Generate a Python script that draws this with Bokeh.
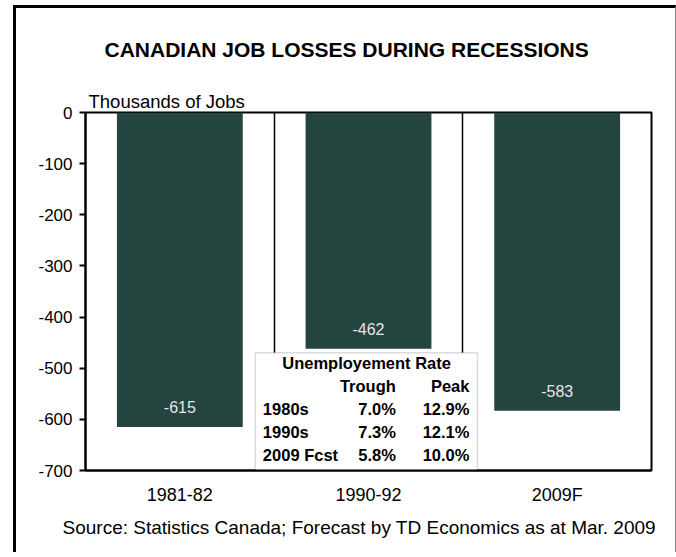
from bokeh.plotting import figure
from bokeh.models import Range1d, FixedTicker, Label, BoxAnnotation, ColumnDataSource, Title
from bokeh.core.properties import value
from bokeh.embed import file_html
from bokeh.resources import INLINE

# Job losses (thousands) in each recession
periods = ["1981-82", "1990-92", "2009F"]
job_losses = [-615, -462, -583]

# Unemployment rate inset table
rate_rows = ["1980s", "1990s", "2009 Fcst"]
trough_rates = [7.0, 7.3, 5.8]
peak_rates = [12.9, 12.1, 10.0]

y_ticks = [0, -100, -200, -300, -400, -500, -600, -700]

FONT = "Liberation Sans"
BAR = "#23443f"

p = figure(width=659, height=544, output_backend="svg", toolbar_location=None,
           x_range=Range1d(0, 3), y_range=Range1d(-700, 0),
           min_border_left=69, min_border_right=28, min_border_top=102,
           min_border_bottom=85)
p.styles = {"box-sizing": "content-box", "margin-left": "13px", "margin-top": "5px",
            "border-left": "3px solid black", "border-top": "3px solid black",
            "border-right": "1px solid #888888"}
p.background_fill_color = "white"
p.border_fill_color = "white"
p.outline_line_color = "black"
p.outline_line_width = 2

# main title, y-unit note and source line
p.title.text = "CANADIAN JOB LOSSES DURING RECESSIONS"
p.title.align = "left"
p.title.text_font = FONT
p.title.text_font_size = "21px"
p.title.text_font_style = "bold"
p.title.text_color = "black"
p.title.offset = 19
p.title.standoff = 55
p.add_layout(Title(text="Thousands of Jobs", align="left", offset=3,
                   text_font=FONT, text_font_size="18.5px", text_font_style="normal",
                   text_color="black", standoff=1), "above")
p.add_layout(Title(text="Source: Statistics Canada; Forecast by TD Economics as at Mar. 2009",
                   align="left", offset=-23, text_font=FONT, text_font_size="19px",
                   text_font_style="normal", text_color="black", standoff=14), "below")

xs = [i + 0.5 for i in range(len(periods))]
src = ColumnDataSource(dict(x=xs, top=[0] * len(xs), bottom=job_losses,
                            lab=[str(v) for v in job_losses]))
p.vbar(x="x", top="top", bottom="bottom", width=0.667, source=src,
       fill_color=BAR, line_color=None)
p.text(x="x", y="bottom", text="lab", source=src, y_offset=-20,
       text_align="center", text_baseline="middle", text_color="#e6e6e6",
       text_font=value(FONT), text_font_size="16px")

# grid: vertical separators between periods only
p.ygrid.visible = False
p.xgrid.ticker = FixedTicker(ticks=[1, 2])
p.xgrid.grid_line_color = "black"
p.xgrid.grid_line_width = 1.5

# y axis
p.yaxis.ticker = FixedTicker(ticks=y_ticks)
p.yaxis.major_label_overrides = {v: str(v) for v in y_ticks}
p.yaxis.axis_line_width = 2
p.yaxis.major_tick_line_width = 2
p.yaxis.major_tick_out = 6
p.yaxis.major_tick_in = 0
p.yaxis.minor_tick_line_color = None
p.yaxis.major_label_standoff = 7
p.yaxis.major_label_text_font = FONT
p.yaxis.major_label_text_font_size = "17px"
p.yaxis.major_label_text_color = "black"

# x axis
p.xaxis.ticker = FixedTicker(ticks=xs)
p.xaxis.major_label_overrides = {x: lab for x, lab in zip(xs, periods)}
p.xaxis.axis_line_width = 2
p.xaxis.major_tick_line_color = None
p.xaxis.minor_tick_line_color = None
p.xaxis.major_label_standoff = 8
p.xaxis.major_label_text_font = FONT
p.xaxis.major_label_text_font_size = "18px"
p.xaxis.major_label_text_color = "black"

# inset table
p.add_layout(BoxAnnotation(left=0.9, right=2.077, top=-470, bottom=-700,
                           fill_color="white", fill_alpha=1.0,
                           line_color="#888888", line_width=1.5, level="underlay"))

row_y = [-580, -625, -670]
tab = ColumnDataSource(dict(
    y=row_y, name=rate_rows,
    trough=[f"{v:.1f}%" for v in trough_rates],
    peak=[f"{v:.1f}%" for v in peak_rates],
    x0=[0.94] * 3, x1=[1.645] * 3, x2=[2.035] * 3))
common = dict(text_font=value(FONT), text_font_size="16.5px", text_font_style="bold",
              text_baseline="middle", text_color="black")
p.text(x="x0", y="y", text="name", source=tab, text_align="left", **common)
p.text(x="x1", y="y", text="trough", source=tab, text_align="right", **common)
p.text(x="x2", y="y", text="peak", source=tab, text_align="right", **common)

hdr = dict(text_font=FONT, text_font_size="16.5px", text_font_style="bold",
           text_baseline="middle", text_color="black")
p.add_layout(Label(x=1.49, y=-489, text="Unemployement Rate", text_align="center", **hdr))
p.add_layout(Label(x=1.645, y=-534, text="Trough", text_align="right", **hdr))
p.add_layout(Label(x=2.035, y=-534, text="Peak", text_align="right", **hdr))

open("out.html", "w").write(file_html(p, INLINE))
